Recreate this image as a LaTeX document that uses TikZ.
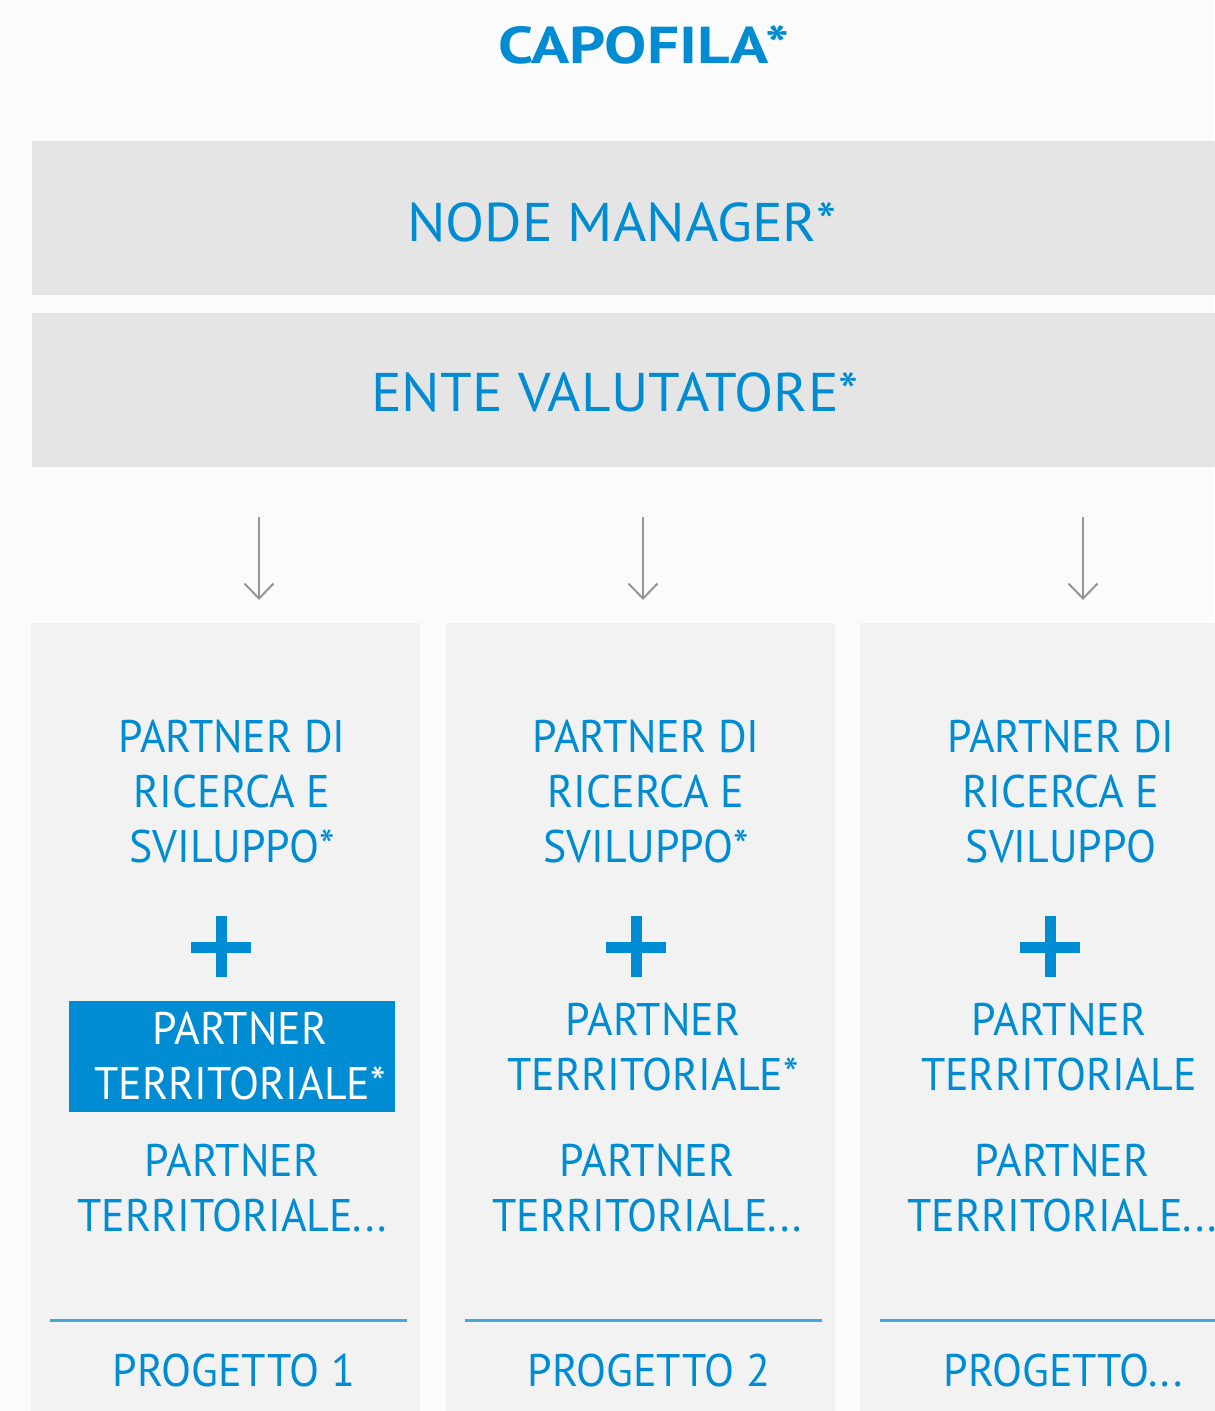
\documentclass[tikz,border=0pt]{standalone}
\usepackage{fontspec}
\setmainfont{PT Sans}
\newfontfamily\colfont{PT Sans}[FakeStretch=0.96]
\newfontfamily\bandfont{PT Sans}[FakeStretch=1.05]
\newfontfamily\titlefont{PT Sans}[FakeStretch=1.22]
\usepackage{xcolor}
\usetikzlibrary{arrows.meta}

\definecolor{capblue}{RGB}{0,140,210}
\definecolor{ruleblue}{RGB}{70,165,218}
\definecolor{boxgray}{RGB}{229,229,229}
\definecolor{colgray}{RGB}{242,242,242}
\definecolor{pagegray}{RGB}{251,251,251}
\definecolor{arrowgray}{RGB}{150,150,150}

\tikzset{
  bigbox/.style={fill=boxgray, anchor=north west, minimum width=240mm, minimum height=30.7mm, inner sep=0pt},
  colbox/.style={fill=colgray, anchor=north west, minimum width=77.8mm, minimum height=157.6mm, inner sep=0pt},
  boxtext/.style={text=capblue, inner sep=0pt, font=\bandfont\fontsize{31}{37}\selectfont},
  coltext/.style={text=capblue, align=center, inner sep=0pt, font=\colfont\fontsize{26}{31.3}\selectfont},
  hilite/.style={fill=capblue, minimum width=65mm, minimum height=22.2mm, inner sep=0pt},
  plussign/.style={capblue, line width=2.2mm},
  rule/.style={ruleblue, line width=0.6mm},
  arr/.style={arrowgray, line width=0.4mm, -{Straight Barb[length=3mm, width=5.8mm]}}
}

\begin{document}
\begin{tikzpicture}[x=0.2mm, y=-0.2mm]
    \fill[pagegray] (0,0) rectangle (1214,1411);
    \useasboundingbox (0,0) rectangle (1214,1411);

    % Title
    \node[text=capblue, inner sep=0pt, font=\titlefont\fontsize{29.5}{35}\selectfont\bfseries] (capofila) at (644,45) {CAPOFILA*};

    % Grey bands
    \node[bigbox] (manager) at (32,141) {};
    \node[bigbox] (valutatore) at (32,313) {};
    \node[boxtext] (managertext) at (622,222) {NODE MANAGER*};
    \node[boxtext] (valutatoretext) at (615,392) {ENTE VALUTATORE*};

    % Project columns
    \node[colbox] (col1) at (31,623) {};
    \node[colbox] (col2) at (446,623) {};
    \node[colbox] (col3) at (860,623) {};

    % Arrows
    \foreach \i/\x in {1/259, 2/643, 3/1083} {
        \coordinate (a\i) at (\x,517);
        \coordinate (b\i) at (\x,600);
        \draw[arr] (a\i) -- (b\i);
    }

    % Research partners
    \node[coltext] (ricerca1) at (232,792) {PARTNER DI\\RICERCA E\\SVILUPPO*};
    \node[coltext] (ricerca2) at (646,792) {PARTNER DI\\RICERCA E\\SVILUPPO*};
    \node[coltext] (ricerca3) at (1061,792) {PARTNER DI\\RICERCA E\\SVILUPPO};

    % Plus signs
    \foreach \x in {221, 636, 1050} {
        \draw[plussign] (\x-30,947) -- (\x+30,947);
        \draw[plussign] (\x,916) -- (\x,977);
    }

    % Territorial partners
    \node[hilite] (terr1) at (232,1056) {};
    \node[coltext, text=white] (terr1text) at (240,1056) {PARTNER\\TERRITORIALE*};
    \node[coltext] (terr2) at (653,1047) {PARTNER\\TERRITORIALE*};
    \node[coltext] (terr3) at (1059,1047) {PARTNER\\TERRITORIALE};

    \node[coltext] (more1) at (232,1188) {PARTNER\\TERRITORIALE...};
    \node[coltext] (more2) at (647,1188) {PARTNER\\TERRITORIALE...};
    \node[coltext] (more3) at (1062,1188) {PARTNER\\TERRITORIALE...};

    % Project labels
    \draw[rule] (50,1320) -- (407,1320);
    \draw[rule] (465,1320) -- (822,1320);
    \draw[rule] (880,1320) -- (1220,1320);

    \node[coltext] (prog1) at (234,1370) {PROGETTO 1};
    \node[coltext] (prog2) at (649,1370) {PROGETTO 2};
    \node[coltext] (prog3) at (1063,1370) {PROGETTO...};
\end{tikzpicture}
\end{document}
